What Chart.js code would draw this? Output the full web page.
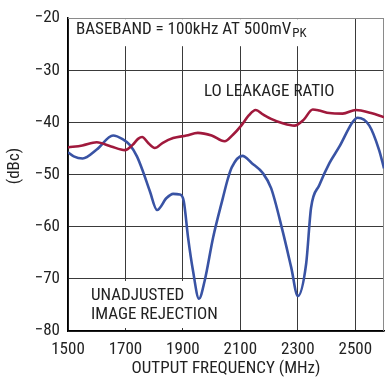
<!DOCTYPE html>
<html>
<head>
<meta charset="utf-8">
<script src="https://cdn.jsdelivr.net/npm/chart.js@4/dist/chart.umd.min.js"></script>
<style>
html,body{margin:0;padding:0;background:#fff;}
#wrap{width:385px;height:382px;}
</style>
</head>
<body>
<div id="wrap"><canvas id="c" width="385" height="382"></canvas></div>
<script>
// ---- data ----
const xTicks = [1500, 1700, 1900, 2100, 2300, 2500];
const yTicks = [-80, -70, -60, -50, -40, -30, -20];

const loFreq = [1500, 1550, 1600, 1650, 1698, 1725, 1745, 1758, 1780, 1802, 1830, 1866, 1912, 1952, 2000, 2045, 2075, 2103, 2130, 2153, 2180, 2207, 2250, 2288, 2320, 2352, 2375, 2410, 2456, 2502, 2555, 2600];
const loLeak = [-44.8, -44.4, -43.8, -44.6, -45.3, -44.3, -43.1, -42.8, -44.0, -44.9, -43.9, -43.0, -42.5, -42.0, -42.5, -43.6, -42.3, -40.6, -38.6, -37.6, -38.5, -39.3, -40.2, -40.6, -39.5, -37.5, -37.7, -38.2, -38.3, -37.6, -38.2, -39.0];

const irFreq = [1500, 1520, 1551, 1600, 1657, 1690, 1715, 1740, 1761, 1785, 1810, 1843, 1866, 1889, 1903, 1918, 1935, 1956, 1976, 2005, 2039, 2057, 2070, 2107, 2140, 2178, 2207, 2247, 2277, 2300, 2329, 2346, 2375, 2410, 2444, 2491, 2508, 2549, 2583, 2600];
const imageRej = [-45.7, -46.5, -46.9, -45.2, -42.5, -43.2, -44.3, -46.5, -49.4, -53.2, -56.8, -54.5, -53.7, -53.8, -55.1, -62.1, -68.4, -73.8, -70.3, -62.1, -54.5, -50.7, -48.6, -46.4, -47.8, -49.7, -52.6, -60.8, -67.8, -73.3, -67.1, -56.4, -52.0, -47.8, -44.7, -39.9, -39.1, -40.6, -45.3, -48.8];

const xTitle = 'OUTPUT FREQUENCY (MHz)';
const yTitle = '(dBc)';
const noteTop = 'BASEBAND = 100kHz AT 500mV';
const noteTopSub = 'PK';
const noteLO = 'LO LEAKAGE RATIO';
const noteIR = ['UNADJUSTED', 'IMAGE REJECTION'];

const FONT = '"Liberation Sans Narrow", "Roboto Condensed", "Liberation Sans", sans-serif';
const TXT = '#222';

function pts(xs, ys) { return xs.map((x, i) => ({x: x, y: ys[i]})); }

const overlay = {
  id: 'overlay',
  beforeDatasetsDraw(chart) {
    const ctx = chart.ctx;
    const a = chart.chartArea;
    ctx.save();
    // white boxes behind notes
    ctx.fillStyle = '#fff';
    ctx.fillRect(a.left + 1, a.top + 1, 245, 27);
    ctx.fillRect(88, 281, 134, 47);
    // frame top/right
    ctx.strokeStyle = '#8a8a8a';
    ctx.lineWidth = 1;
    ctx.beginPath();
    ctx.moveTo(a.left, Math.round(a.top) + 0.5);
    ctx.lineTo(a.right, Math.round(a.top) + 0.5);
    ctx.moveTo(Math.round(a.right) - 0.5, a.top);
    ctx.lineTo(Math.round(a.right) - 0.5, a.bottom);
    ctx.stroke();
    // notes
    ctx.fillStyle = TXT;
    ctx.textBaseline = 'middle';
    ctx.textAlign = 'left';
    ctx.font = '17px ' + FONT;
    ctx.fillText(noteTop, 76, 30);
    const w = ctx.measureText(noteTop).width;
    ctx.font = '13px ' + FONT;
    ctx.fillText(noteTopSub, 76 + w + 1, 34);
    ctx.font = '17px ' + FONT;
    ctx.fillText(noteLO, 204, 92);
    ctx.fillText(noteIR[0], 91, 296);
    ctx.fillText(noteIR[1], 91, 315);
    // axis titles
    ctx.textAlign = 'center';
    ctx.fillText(xTitle, (a.left + a.right) / 2, 369);
    ctx.translate(15, 166);
    ctx.rotate(-Math.PI / 2);
    ctx.fillText(yTitle, 0, 0);
    ctx.restore();
  }
};

new Chart(document.getElementById('c'), {
  type: 'line',
  data: {
    datasets: [
      { label: 'LO leakage ratio', data: pts(loFreq, loLeak), borderColor: '#a0193c', borderWidth: 2.6, pointRadius: 0, fill: false, cubicInterpolationMode: 'monotone' },
      { label: 'Unadjusted image rejection', data: pts(irFreq, imageRej), borderColor: '#3953a4', borderWidth: 2.6, pointRadius: 0, fill: false, cubicInterpolationMode: 'monotone' }
    ]
  },
  options: {
    responsive: false,
    animation: false,
    devicePixelRatio: 1,
    layout: { padding: { top: 14, right: 1, left: 0, bottom: 0 } },
    plugins: { legend: { display: false }, tooltip: { enabled: false } },
    scales: {
      x: {
        type: 'linear', min: 1500, max: 2600,
        afterBuildTicks(s) { s.ticks = xTicks.map(v => ({value: v})); },
        afterFit(s) { s.height = 51; },
        grid: { color: '#3a3a3a', lineWidth: 1, drawTicks: false },
        border: { color: '#000', width: 1.5 },
        ticks: { padding: 9, color: TXT, font: { family: FONT, size: 17 }, maxRotation: 0, autoSkip: false, callback: v => String(v) }
      },
      y: {
        type: 'linear', min: -80, max: -20,
        afterBuildTicks(s) { s.ticks = yTicks.map(v => ({value: v})); },
        afterFit(s) { s.width = 68; },
        grid: { color: ctx => (ctx.tick && ctx.tick.value === -20) ? '#8a8a8a' : '#3a3a3a', lineWidth: 1, drawTicks: false },
        border: { color: '#000', width: 1.5 },
        ticks: { padding: 8, color: TXT, font: { family: FONT, size: 17 }, autoSkip: false, callback: v => String(v).replace('-', '\u2212') }
      }
    }
  },
  plugins: [overlay]
});
</script>
</body>
</html>
